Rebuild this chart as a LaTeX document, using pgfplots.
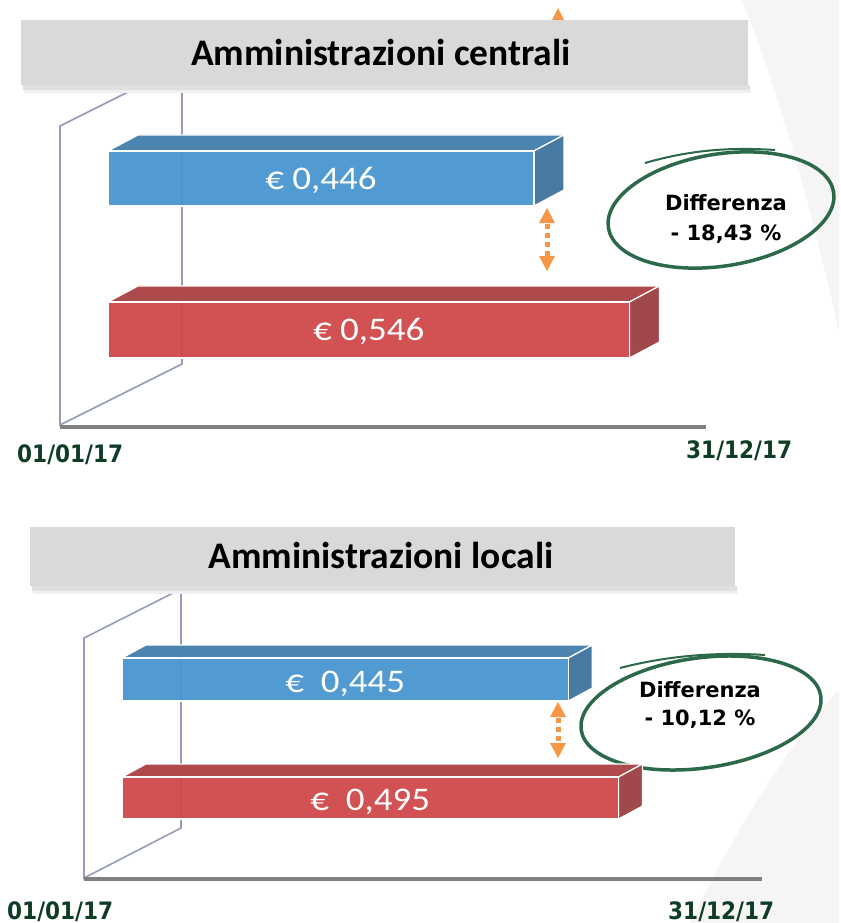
\documentclass[border=0pt]{standalone}
\usepackage{pgfplots}
\pgfplotsset{compat=1.18}
\usepackage{fontspec}
\setmainfont{Carlito}
\newfontfamily\verd{DejaVu Sans}
\definecolor{blueF}{RGB}{72,150,208}
\definecolor{blueT}{RGB}{76,134,176}
\definecolor{blueS}{RGB}{73,122,162}
\definecolor{redF}{RGB}{208,72,74}
\definecolor{redT}{RGB}{174,74,76}
\definecolor{redS}{RGB}{160,72,75}
\definecolor{wallc}{RGB}{152,156,188}
\definecolor{ellg}{RGB}{44,104,74}
\definecolor{dateg}{RGB}{14,60,36}
\definecolor{orangeA}{RGB}{246,150,70}
\definecolor{boxg}{RGB}{217,217,217}
\definecolor{axg}{RGB}{128,128,128}
\pgfplotsset{pix/.style={scale only axis, y dir=reverse, y=1pt, ymin=0, ymax=923,
  hide axis, clip=false, enlargelimits=false, anchor=south west}}
\begin{document}
\begin{tikzpicture}
% ---------------- background / decorations (pixel coordinates)
\begin{axis}[pix, x=1pt, xmin=0, xmax=839, at={(0pt,0pt)}]
\fill[white] (0,0) rectangle (839,923);
\fill[black!4] (742,0) .. controls (790,120) and (820,250) .. (839,330) -- (839,0) -- cycle;
\fill[black!4] (690,923) .. controls (740,820) and (800,730) .. (839,690) -- (839,923) -- cycle;
% top orange arrow tip (partly hidden)
\fill[orangeA] (558,8) -- (551,22) -- (565,22) -- cycle;
% walls
\draw[wallc, line width=1.6pt] (60,126) -- (182,65) -- (182,364) -- (60,425) -- cycle;
\draw[wallc, line width=1.6pt] (84,638) -- (181,589) -- (181,828) -- (84,878) -- cycle;
% base axis lines
\draw[axg, line width=4.5pt] (60,427) -- (706,427);
\draw[axg, line width=4.5pt] (84,879) -- (762,879);
% date labels
\node[anchor=base west, inner sep=0, text=dateg] at (17,462) {\scalebox{0.9}[1]{\verd\bfseries\fontsize{24}{24}\selectfont 01/01/17}};
\node[anchor=base west, inner sep=0, text=dateg] at (686,458) {\scalebox{0.9}[1]{\verd\bfseries\fontsize{24}{24}\selectfont 31/12/17}};
\node[anchor=base west, inner sep=0, text=dateg] at (7,919) {\scalebox{0.9}[1]{\verd\bfseries\fontsize{24}{24}\selectfont 01/01/17}};
\node[anchor=base west, inner sep=0, text=dateg] at (668,919) {\scalebox{0.9}[1]{\verd\bfseries\fontsize{24}{24}\selectfont 31/12/17}};
% title boxes with soft shadow
\fill[black!12] (23,85) rectangle (750,90);
\fill[black!6] (24,90) rectangle (751,93);
\fill[boxg] (21,20) rectangle (748,85);
\node[anchor=base, inner sep=0] at (381,66) {\bfseries\fontsize{37.5}{37.5}\selectfont Amministrazioni centrali};
\fill[black!12] (32,586) rectangle (737,591);
\fill[black!6] (33,591) rectangle (738,594);
\fill[boxg] (30,527) rectangle (735,586);
\node[anchor=base, inner sep=0] at (381,568) {\bfseries\fontsize{37.5}{37.5}\selectfont Amministrazioni locali};
% ellipses
\draw[ellg, line width=3.5pt] (721,210) ellipse [x radius=114pt, y radius=56pt, rotate=9];
\draw[ellg, line width=2pt] (645,163) .. controls (690,150) and (730,147) .. (775,150);
\node[anchor=base, inner sep=0] at (726,210) {\verd\bfseries\fontsize{21}{21}\selectfont Differenza};
\node[anchor=base, inner sep=0] at (726,240) {\verd\bfseries\fontsize{21}{21}\selectfont - 18,43 \%};
\draw[ellg, line width=3.5pt] (701,713) ellipse [x radius=121pt, y radius=55pt, rotate=8];
\draw[ellg, line width=2pt] (620,668) .. controls (670,655) and (720,652) .. (765,655);
\node[anchor=base, inner sep=0] at (700,697) {\verd\bfseries\fontsize{21}{21}\selectfont Differenza};
\node[anchor=base, inner sep=0] at (700,725) {\verd\bfseries\fontsize{21}{21}\selectfont - 10,12 \%};
% orange dotted double arrows
\draw[orangeA, line width=5pt, dash pattern=on 5pt off 4pt] (547,224) -- (547,256);
\fill[orangeA] (547,208) -- (539,223) -- (555,223) -- cycle;
\fill[orangeA] (547,271) -- (539,256) -- (555,256) -- cycle;
\draw[orangeA, line width=5pt, dash pattern=on 5pt off 4pt] (558,718) -- (558,742);
\fill[orangeA] (558,702) -- (550,717) -- (566,717) -- cycle;
\fill[orangeA] (558,758) -- (550,743) -- (566,743) -- cycle;
\end{axis}
% ---------------- panel 1 bars (x = value)
\begin{axis}[pix, x=955pt, xmin=0, xmax=0.74, at={(108pt,0pt)}]
\addplot[fill=blueT, draw=white, line width=1.2pt] coordinates {(0,151) (0.446,151) (0.4774,135) (0.0314,135)} -- cycle;
\addplot[fill=blueS, draw=white, line width=1.2pt] coordinates {(0.446,151) (0.4774,135) (0.4774,190) (0.446,206)} -- cycle;
\addplot[xbar, bar width=55, fill=blueF, fill opacity=0.95, draw=white, line width=1.2pt] coordinates {(0.446,178.5)};
\addplot[fill=redT, draw=white, line width=1.2pt] coordinates {(0,302) (0.546,302) (0.5774,286) (0.0314,286)} -- cycle;
\addplot[fill=redS, draw=white, line width=1.2pt] coordinates {(0.546,302) (0.5774,286) (0.5774,342) (0.546,358)} -- cycle;
\addplot[xbar, bar width=56, fill=redF, fill opacity=0.95, draw=white, line width=1.2pt] coordinates {(0.546,330)};
\node[anchor=base, inner sep=0, text=white] at (0.223,190) {\scalebox{1.12}[1]{\fontsize{33}{33}\selectfont € 0,446}};
\node[anchor=base, inner sep=0, text=white] at (0.273,341) {\scalebox{1.12}[1]{\fontsize{33}{33}\selectfont € 0,546}};
\end{axis}
% ---------------- panel 2 bars (x = value)
\begin{axis}[pix, x=1003pt, xmin=0, xmax=0.7, at={(122pt,0pt)}]
\addplot[fill=blueT, draw=white, line width=1.2pt] coordinates {(0,658) (0.445,658) (0.4689,645) (0.0239,645)} -- cycle;
\addplot[fill=blueS, draw=white, line width=1.2pt] coordinates {(0.445,658) (0.4689,645) (0.4689,688) (0.445,701)} -- cycle;
\addplot[xbar, bar width=43, fill=blueF, fill opacity=0.95, draw=white, line width=1.2pt] coordinates {(0.445,679.5)};
\addplot[fill=redT, draw=white, line width=1.2pt] coordinates {(0,777) (0.495,777) (0.5189,764) (0.0239,764)} -- cycle;
\addplot[fill=redS, draw=white, line width=1.2pt] coordinates {(0.495,777) (0.5189,764) (0.5189,806) (0.495,819)} -- cycle;
\addplot[xbar, bar width=42, fill=redF, fill opacity=0.95, draw=white, line width=1.2pt] coordinates {(0.495,798)};
\node[anchor=base, inner sep=0, text=white] at (0.2225,692) {\scalebox{1.12}[1]{\fontsize{33}{33}\selectfont €~~0,445}};
\node[anchor=base, inner sep=0, text=white] at (0.2475,810) {\scalebox{1.12}[1]{\fontsize{33}{33}\selectfont €~~0,495}};
\end{axis}
\end{tikzpicture}
\end{document}
